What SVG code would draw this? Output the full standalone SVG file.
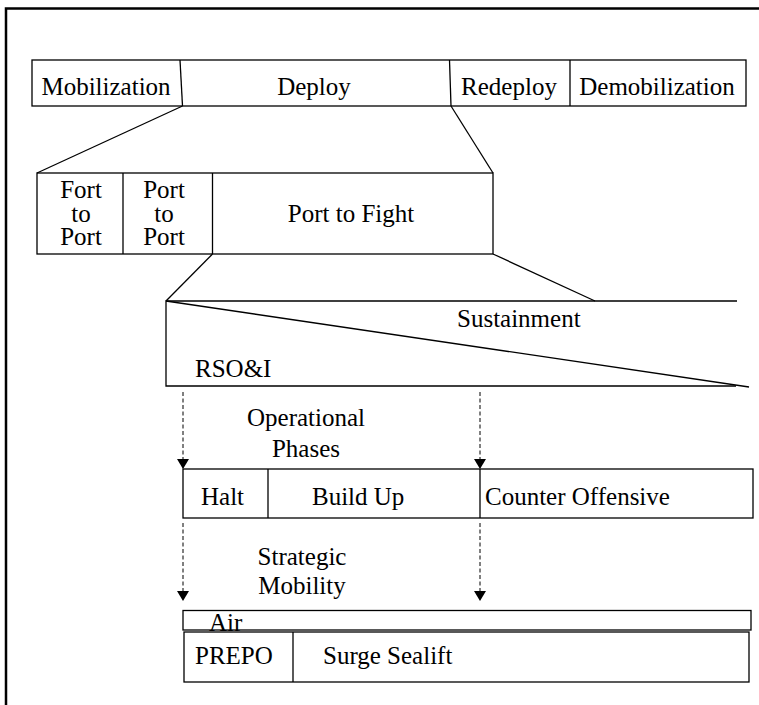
<svg xmlns="http://www.w3.org/2000/svg" width="759" height="705" viewBox="0 0 759 705" font-family="'Liberation Serif', 'Times New Roman', 'DejaVu Serif', serif">
<defs>
<style>
text{font-family:'Liberation Serif','Times New Roman','DejaVu Serif',serif;font-size:25px;fill:#000}
.c{text-anchor:middle}
.b{fill:#fff;stroke:#000;stroke-width:1.3}
.l{stroke:#000;stroke-width:1.3;fill:none}
.d{stroke:#000;stroke-width:1;stroke-dasharray:4 2.5;fill:none}
</style>
<marker id="ah" viewBox="0 0 10 12" refX="10" refY="6" markerWidth="10" markerHeight="12" markerUnits="userSpaceOnUse" orient="auto">
<path d="M0,0 L10,6 L0,12 z" fill="#000"/>
</marker>
</defs>
<rect width="759" height="705" fill="#fff"/>
<path d="M6,705 V8.5 H759" fill="none" stroke="#000" stroke-width="2.5"/>

<g id="phases-top">
<rect class="b" x="32" y="60" width="714" height="46"/>
<line class="l" x1="180" y1="60" x2="182.5" y2="106"/>
<line class="l" x1="449.5" y1="60" x2="451" y2="106"/>
<line class="l" x1="570" y1="60" x2="570" y2="106"/>
<text class="c" x="106" y="95">Mobilization</text>
<text class="c" x="314" y="95">Deploy</text>
<text class="c" x="509" y="95">Redeploy</text>
<text class="c" x="657" y="95">Demobilization</text>
</g>

<g id="deploy-detail">
<rect class="b" x="37" y="173" width="456" height="81"/>
<line class="l" x1="123" y1="173" x2="123" y2="254"/>
<line class="l" x1="212.5" y1="173" x2="212.5" y2="254"/>
<text class="c" x="81" y="198">Fort</text>
<text class="c" x="81" y="222">to</text>
<text class="c" x="81" y="245">Port</text>
<text class="c" x="164" y="198">Port</text>
<text class="c" x="164" y="222">to</text>
<text class="c" x="164" y="245">Port</text>
<text class="c" x="351" y="222">Port to Fight</text>
</g>

<g id="port-to-fight-detail">
<path class="l" d="M737,301 H166 V386 H736"/>
<line class="l" x1="166" y1="301" x2="749" y2="387"/>
<text x="457" y="327">Sustainment</text>
<text x="195" y="377">RSO&amp;I</text>
</g>

<g id="operational-label">
<text class="c" x="306" y="426">Operational</text>
<text class="c" x="306" y="457">Phases</text>
</g>

<g id="operational-phases">
<rect class="b" x="183" y="469" width="570" height="49"/>
<line class="l" x1="268" y1="469" x2="268" y2="518"/>
<line class="l" x1="480" y1="469" x2="480" y2="518"/>
<text x="201" y="505">Halt</text>
<text x="312" y="505">Build Up</text>
<text x="485" y="505">Counter Offensive</text>
</g>

<g id="strategic-label">
<text class="c" x="302" y="565">Strategic</text>
<text class="c" x="302" y="594">Mobility</text>
</g>

<g id="air">
<rect class="b" x="183" y="610.5" width="568" height="19.5"/>
<text x="209" y="631">Air</text>
</g>

<g id="sealift">
<rect class="b" x="184" y="632" width="565" height="50"/>
<line class="l" x1="293" y1="632" x2="293" y2="682"/>
<text x="195" y="664">PREPO</text>
<text x="323" y="664">Surge Sealift</text>
</g>

<g id="connectors">
<line class="l" x1="182.5" y1="106" x2="37" y2="173"/>
<line class="l" x1="451" y1="106" x2="493" y2="173"/>
<line class="l" x1="212.5" y1="254" x2="166" y2="301"/>
<line class="l" x1="493" y1="254" x2="595" y2="301"/>
<line class="d" x1="183" y1="392" x2="183" y2="469" marker-end="url(#ah)"/>
<line class="d" x1="480" y1="392" x2="480" y2="469" marker-end="url(#ah)"/>
<line class="d" x1="183" y1="523" x2="183" y2="601" marker-end="url(#ah)"/>
<line class="d" x1="480" y1="523" x2="480" y2="601" marker-end="url(#ah)"/>
</g>
</svg>
